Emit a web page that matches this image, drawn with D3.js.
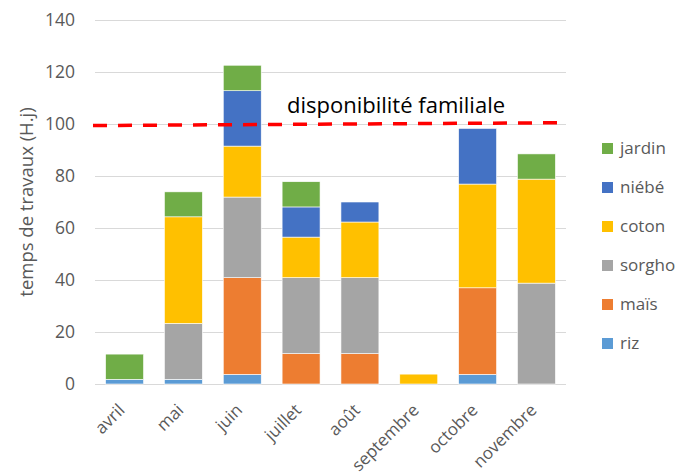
<!DOCTYPE html>
<html>
<head>
<meta charset="utf-8">
<script src="https://cdn.jsdelivr.net/npm/d3@7"></script>
<style>
  body { margin: 0; background: #fff; }
  text { font-family: "Open Sans", sans-serif; }
</style>
</head>
<body>
<div id="chart"></div>
<script>
const width = 691,
    height = 475;

const months = ["avril", "mai", "juin", "juillet", "août", "septembre", "octobre", "novembre"];
const crops = ["riz", "maïs", "sorgho", "coton", "niébé", "jardin"];
const colors = ["#5B9BD5", "#ED7D31", "#A5A5A5", "#FFC000", "#4472C4", "#70AD47"];

// values per crop, one per month
const riz    = [1.8, 1.8, 3.7, 0, 0, 0, 3.7, 0];
const mais   = [0, 0, 37.2, 11.7, 11.7, 0, 33.3, 0];
const sorgho = [0, 21.5, 31, 29.2, 29.2, 0, 0, 38.8];
const coton  = [0, 41, 19.6, 15.6, 21.4, 3.8, 39.9, 40];
const niebe  = [0, 0, 21.3, 11.6, 7.7, 0, 21.4, 0];
const jardin = [9.7, 9.6, 9.8, 9.7, 0, 0, 0, 9.7];

// family availability line (left edge, right edge)
const dispo = [99.4, 100.5];
const dispoLabel = "disponibilité familiale";

const yTicks = [0, 20, 40, 60, 80, 100, 120, 140];

const series = [riz, mais, sorgho, coton, niebe, jardin];
const rows = months.map((m, i) => {
  const row = { month: m };
  crops.forEach((c, j) => { row[c] = series[j][i]; });
  return row;
});

const margin = { left: 95, right: 125, top: 20, bottom: 91 };

const x = d3.scaleBand()
    .domain(months)
    .range([margin.left, width - margin.right])
    .paddingInner(0.355)
    .paddingOuter(0.18);

const y = d3.scaleLinear()
    .domain([0, 140])
    .range([height - margin.bottom, margin.top]);

const color = d3.scaleOrdinal().domain(crops).range(colors);

const svg = d3.select("#chart").append("svg")
    .attr("width", width)
    .attr("height", height);

// gridlines
svg.append("g")
  .selectAll("line")
    .data(yTicks)
  .enter().append("line")
    .attr("x1", margin.left)
    .attr("x2", width - margin.right)
    .attr("y1", d => y(d) + 0.5)
    .attr("y2", d => y(d) + 0.5)
    .style("stroke", "#d9d9d9")
    .style("stroke-width", 1);

// y labels
const yAxis = svg.append("g")
    .attr("transform", "translate(" + (margin.left - 20) + ",0)")
    .call(d3.axisLeft(y).tickValues(yTicks).tickSize(0).tickPadding(0));
yAxis.select(".domain").remove();
yAxis.selectAll("text")
    .style("font-family", "'Open Sans', sans-serif")
    .style("font-size", "17.5px")
    .style("fill", "#595959");

svg.append("text")
    .attr("transform", "translate(27," + y(70) + ") rotate(-90)")
    .attr("dy", "0.35em")
    .style("text-anchor", "middle")
    .style("font-size", "18.5px")
    .style("fill", "#595959")
    .text("temps de travaux (H.j)");

// stacked bars
const stacked = d3.stack().keys(crops)(rows);

svg.append("g")
  .selectAll("g")
    .data(stacked)
  .enter().append("g")
    .style("fill", d => color(d.key))
  .selectAll("rect")
    .data(d => d.filter(s => s[1] - s[0] > 0))
  .enter().append("rect")
    .attr("x", d => x(d.data.month))
    .attr("width", x.bandwidth())
    .attr("y", d => y(d[1]))
    .attr("height", d => y(d[0]) - y(d[1]))
    .style("stroke", "#fff")
    .style("stroke-width", 0.6);

// x labels
const xAxis = svg.append("g")
    .attr("transform", "translate(0," + (height - margin.bottom) + ")")
    .call(d3.axisBottom(x).tickSize(0).tickPadding(0));
xAxis.select(".domain").remove();
xAxis.selectAll("text")
    .style("font-family", "'Open Sans', sans-serif")
    .style("font-size", "17px")
    .style("fill", "#595959")
    .style("text-anchor", "end")
    .attr("dy", "0.35em")
    .attr("transform", "translate(-3,23) rotate(-45)");

// availability line
const line = d3.line()
    .x((d, i) => i === 0 ? margin.left - 2 : width - margin.right)
    .y(d => y(d));

svg.append("path")
    .datum(dispo)
    .attr("d", line)
    .style("fill", "none")
    .style("stroke", "#ff0000")
    .style("stroke-width", 3.5)
    .style("stroke-dasharray", "14,11");

svg.append("text")
    .attr("x", 287)
    .attr("y", y(104.2))
    .style("font-size", "22px")
    .style("fill", "#000")
    .text(dispoLabel);

// legend (top item = last stack)
const legendItems = crops.slice().reverse();
const legend = svg.append("g")
  .selectAll("g")
    .data(legendItems)
  .enter().append("g")
    .attr("transform", (d, i) => "translate(602," + (148 + i * 39) + ")");

legend.append("rect")
    .attr("x", 0)
    .attr("y", -5)
    .attr("width", 11)
    .attr("height", 11)
    .style("fill", d => color(d));

legend.append("text")
    .attr("x", 18)
    .attr("dy", "0.35em")
    .style("font-size", "17px")
    .style("fill", "#595959")
    .text(d => d);
</script>
</body>
</html>
